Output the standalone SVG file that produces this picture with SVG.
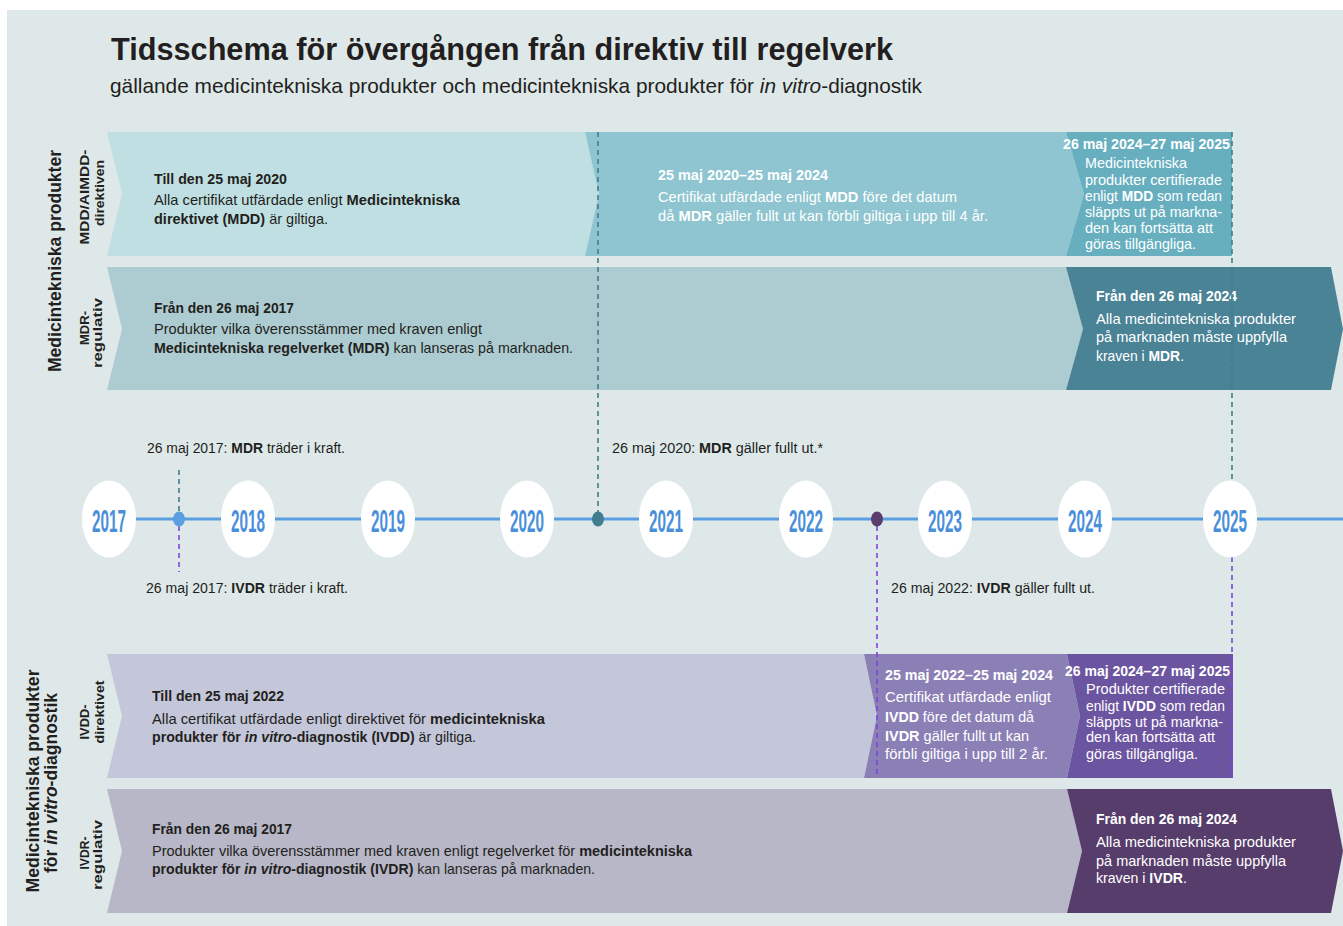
<svg xmlns="http://www.w3.org/2000/svg" width="1343" height="926" viewBox="0 0 1343 926">
<style>
text{font-family:"Liberation Sans Narrow","Liberation Sans",Arial,sans-serif;fill:#231f20}
.b{font-weight:bold}
.i{font-style:italic}
.w{fill:#fff}
.s{font-size:14.5px}
.lab{font-size:14px}
.yr{font-size:32px;font-weight:bold;fill:#4a8fda;text-anchor:middle}
.v{font-weight:bold;text-anchor:middle}
.yc{fill:#fff}
.dt{fill:none;stroke:#3f7d8f;stroke-width:1.6;stroke-dasharray:5 4}
.dp{fill:none;stroke:#7d44dc;stroke-width:1.6;stroke-dasharray:5 4}
</style>
<rect x="7" y="10" width="1336" height="916" fill="#dfe8e9"/>
<g id="title">
<text x="111" y="60" class="b" font-size="32" textLength="782" lengthAdjust="spacingAndGlyphs">Tidsschema för övergången från direktiv till regelverk</text>
<text x="110" y="93" font-size="21" textLength="812" lengthAdjust="spacingAndGlyphs">gällande medicintekniska produkter och medicintekniska produkter för <tspan class="i">in vitro</tspan>-diagnostik</text>
</g>
<g id="side-labels">
<text class="v" font-size="19" transform="translate(61,261) rotate(-90)" textLength="222" lengthAdjust="spacingAndGlyphs">Medicintekniska produkter</text>
<text class="v" font-size="13.5" transform="translate(89,197) rotate(-90)" textLength="95" lengthAdjust="spacingAndGlyphs">MDD/AIMDD-</text>
<text class="v" font-size="13.5" transform="translate(104,193) rotate(-90)" textLength="66" lengthAdjust="spacingAndGlyphs">direktiven</text>
<text class="v" font-size="13.5" transform="translate(89,328) rotate(-90)" textLength="34" lengthAdjust="spacingAndGlyphs">MDR-</text>
<text class="v" font-size="13.5" transform="translate(102,333) rotate(-90)" textLength="70" lengthAdjust="spacingAndGlyphs">regulativ</text>
<text class="v" font-size="19" transform="translate(39,781) rotate(-90)" textLength="223" lengthAdjust="spacingAndGlyphs">Medicintekniska produkter</text>
<text class="v" font-size="19" transform="translate(57,783) rotate(-90)" textLength="180" lengthAdjust="spacingAndGlyphs">för <tspan class="i">in vitro</tspan>-diagnostik</text>
<text class="v" font-size="13.5" transform="translate(89,722) rotate(-90)" textLength="35" lengthAdjust="spacingAndGlyphs">IVDD-</text>
<text class="v" font-size="13.5" transform="translate(104,712) rotate(-90)" textLength="63" lengthAdjust="spacingAndGlyphs">direktivet</text>
<text class="v" font-size="13.5" transform="translate(89,853) rotate(-90)" textLength="33" lengthAdjust="spacingAndGlyphs">IVDR-</text>
<text class="v" font-size="13.5" transform="translate(102,855) rotate(-90)" textLength="70" lengthAdjust="spacingAndGlyphs">regulativ</text>
</g>
<g id="mdd-until-2020">
<path d="M107,132 L585,132 L599,194 L585,256 L107,256 L122,194 Z" fill="#c0dfe2"/>
<text x="154" y="184" class="s b" textLength="133" lengthAdjust="spacingAndGlyphs">Till den 25 maj 2020</text>
<text x="154" y="205" class="s" textLength="306" lengthAdjust="spacingAndGlyphs">Alla certifikat utfärdade enligt <tspan class="b">Medicintekniska</tspan></text>
<text x="154" y="224" class="s" textLength="174" lengthAdjust="spacingAndGlyphs"><tspan class="b">direktivet (MDD)</tspan> är giltiga.</text>
</g>
<g id="mdd-2020-2024">
<path d="M585,132 L1066,132 L1084,194 L1066,256 L585,256 L599,194 Z" fill="#8ec5d0"/>
<text x="658" y="180" class="s b w" textLength="170" lengthAdjust="spacingAndGlyphs">25 maj 2020–25 maj 2024</text>
<text x="658" y="202" class="s w" textLength="299" lengthAdjust="spacingAndGlyphs">Certifikat utfärdade enligt <tspan class="b">MDD</tspan> före det datum</text>
<text x="658" y="221" class="s w" textLength="330" lengthAdjust="spacingAndGlyphs">då <tspan class="b">MDR</tspan> gäller fullt ut kan förbli giltiga i upp till 4 år.</text>
</g>
<g id="mdd-2024-2025">
<path d="M1066,132 L1232,132 L1232,256 L1066,256 L1084,194 Z" fill="#67afbf"/>
<text x="1063" y="149" class="s b w" textLength="167" lengthAdjust="spacingAndGlyphs">26 maj 2024–27 maj 2025</text>
<text x="1085" y="168" class="s w" textLength="102" lengthAdjust="spacingAndGlyphs">Medicintekniska</text>
<text x="1085" y="185" class="s w" textLength="137" lengthAdjust="spacingAndGlyphs">produkter certifierade</text>
<text x="1085" y="201" class="s w" textLength="137" lengthAdjust="spacingAndGlyphs">enligt <tspan class="b">MDD</tspan> som redan</text>
<text x="1085" y="217" class="s w" textLength="137" lengthAdjust="spacingAndGlyphs">släppts ut på markna-</text>
<text x="1085" y="233" class="s w" textLength="128" lengthAdjust="spacingAndGlyphs">den kan fortsätta att</text>
<text x="1085" y="249" class="s w" textLength="111" lengthAdjust="spacingAndGlyphs">göras tillgängliga.</text>
</g>
<g id="mdr-from-2017">
<path d="M107,267 L1066,267 L1083,329 L1066,390 L107,390 L122,329 Z" fill="#adccd1"/>
<text x="154" y="313" class="s b" textLength="140" lengthAdjust="spacingAndGlyphs">Från den 26 maj 2017</text>
<text x="154" y="334" class="s" textLength="328" lengthAdjust="spacingAndGlyphs">Produkter vilka överensstämmer med kraven enligt</text>
<text x="154" y="353" class="s" textLength="419" lengthAdjust="spacingAndGlyphs"><tspan class="b">Medicintekniska regelverket (MDR)</tspan> kan lanseras på marknaden.</text>
</g>
<g id="mdr-from-2024">
<path d="M1066,267 L1331,267 L1343,329 L1331,390 L1066,390 L1083,329 Z" fill="#4a8296"/>
<text x="1096" y="301" class="s b w" textLength="141" lengthAdjust="spacingAndGlyphs">Från den 26 maj 2024</text>
<text x="1096" y="324" class="s w" textLength="200" lengthAdjust="spacingAndGlyphs">Alla medicintekniska produkter</text>
<text x="1096" y="342" class="s w" textLength="191" lengthAdjust="spacingAndGlyphs">på marknaden måste uppfylla</text>
<text x="1096" y="361" class="s w" textLength="88" lengthAdjust="spacingAndGlyphs">kraven i <tspan class="b">MDR</tspan>.</text>
</g>
<g id="ivdd-until-2022">
<path d="M107,654 L864,654 L877,716 L864,778 L107,778 L122,716 Z" fill="#c4c7da"/>
<text x="152" y="701" class="s b" textLength="132" lengthAdjust="spacingAndGlyphs">Till den 25 maj 2022</text>
<text x="152" y="724" class="s" textLength="393" lengthAdjust="spacingAndGlyphs">Alla certifikat utfärdade enligt direktivet för <tspan class="b">medicintekniska</tspan></text>
<text x="152" y="742" class="s" textLength="324" lengthAdjust="spacingAndGlyphs"><tspan class="b">produkter för <tspan class="i">in vitro</tspan>-diagnostik (IVDD)</tspan> är giltiga.</text>
</g>
<g id="ivdd-2022-2024">
<path d="M864,654 L1067,654 L1080,716 L1067,778 L864,778 L877,716 Z" fill="#8b80b6"/>
<text x="885" y="680" class="s b w" textLength="168" lengthAdjust="spacingAndGlyphs">25 maj 2022–25 maj 2024</text>
<text x="885" y="702" class="s w" textLength="166" lengthAdjust="spacingAndGlyphs">Certifikat utfärdade enligt</text>
<text x="885" y="722" class="s w" textLength="149" lengthAdjust="spacingAndGlyphs"><tspan class="b">IVDD</tspan> före det datum då</text>
<text x="885" y="741" class="s w" textLength="144" lengthAdjust="spacingAndGlyphs"><tspan class="b">IVDR</tspan> gäller fullt ut kan</text>
<text x="885" y="759" class="s w" textLength="163" lengthAdjust="spacingAndGlyphs">förbli giltiga i upp till 2 år.</text>
</g>
<g id="ivdd-2024-2025">
<path d="M1067,654 L1233,654 L1233,778 L1067,778 L1080,716 Z" fill="#6c55a0"/>
<text x="1065" y="676" class="s b w" textLength="165" lengthAdjust="spacingAndGlyphs">26 maj 2024–27 maj 2025</text>
<text x="1086" y="694" class="s w" textLength="139" lengthAdjust="spacingAndGlyphs">Produkter certifierade</text>
<text x="1086" y="711" class="s w" textLength="139" lengthAdjust="spacingAndGlyphs">enligt <tspan class="b">IVDD</tspan> som redan</text>
<text x="1086" y="727" class="s w" textLength="137" lengthAdjust="spacingAndGlyphs">släppts ut på markna-</text>
<text x="1086" y="742" class="s w" textLength="129" lengthAdjust="spacingAndGlyphs">den kan fortsätta att</text>
<text x="1086" y="759" class="s w" textLength="112" lengthAdjust="spacingAndGlyphs">göras tillgängliga.</text>
</g>
<g id="ivdr-from-2017">
<path d="M107,789 L1067,789 L1082,851 L1067,913 L107,913 L122,851 Z" fill="#b7b7c7"/>
<text x="152" y="834" class="s b" textLength="140" lengthAdjust="spacingAndGlyphs">Från den 26 maj 2017</text>
<text x="152" y="856" class="s" textLength="540" lengthAdjust="spacingAndGlyphs">Produkter vilka överensstämmer med kraven enligt regelverket för <tspan class="b">medicintekniska</tspan></text>
<text x="152" y="874" class="s" textLength="443" lengthAdjust="spacingAndGlyphs"><tspan class="b">produkter för <tspan class="i">in vitro</tspan>-diagnostik (IVDR)</tspan> kan lanseras på marknaden.</text>
</g>
<g id="ivdr-from-2024">
<path d="M1067,789 L1331,789 L1343,851 L1331,913 L1067,913 L1082,851 Z" fill="#573d6b"/>
<text x="1096" y="824" class="s b w" textLength="141" lengthAdjust="spacingAndGlyphs">Från den 26 maj 2024</text>
<text x="1096" y="847" class="s w" textLength="200" lengthAdjust="spacingAndGlyphs">Alla medicintekniska produkter</text>
<text x="1096" y="866" class="s w" textLength="190" lengthAdjust="spacingAndGlyphs">på marknaden måste uppfylla</text>
<text x="1096" y="883" class="s w" textLength="91" lengthAdjust="spacingAndGlyphs">kraven i <tspan class="b">IVDR</tspan>.</text>
</g>
<g id="connectors">
<line x1="109" y1="519" x2="1343" y2="519" stroke="#5b9fe0" stroke-width="3.2"/>
<line class="dt" x1="179" y1="470" x2="179" y2="512"/>
<line class="dp" x1="179" y1="526" x2="179" y2="572"/>
<line class="dt" x1="598" y1="132" x2="598" y2="512"/>
<line class="dp" x1="877" y1="526" x2="877" y2="778"/>
<line class="dt" x1="1232" y1="132" x2="1232" y2="482"/>
<line class="dp" x1="1232" y1="557" x2="1232" y2="778"/>
</g>
<g id="years">
<ellipse class="yc" cx="109" cy="519" rx="27" ry="38.5"/>
<text class="yr" x="109" y="532" textLength="34" lengthAdjust="spacingAndGlyphs">2017</text>
<ellipse class="yc" cx="248" cy="519" rx="27" ry="38.5"/>
<text class="yr" x="248" y="532" textLength="34" lengthAdjust="spacingAndGlyphs">2018</text>
<ellipse class="yc" cx="388" cy="519" rx="27" ry="38.5"/>
<text class="yr" x="388" y="532" textLength="34" lengthAdjust="spacingAndGlyphs">2019</text>
<ellipse class="yc" cx="527" cy="519" rx="27" ry="38.5"/>
<text class="yr" x="527" y="532" textLength="34" lengthAdjust="spacingAndGlyphs">2020</text>
<ellipse class="yc" cx="666" cy="519" rx="27" ry="38.5"/>
<text class="yr" x="666" y="532" textLength="34" lengthAdjust="spacingAndGlyphs">2021</text>
<ellipse class="yc" cx="806" cy="519" rx="27" ry="38.5"/>
<text class="yr" x="806" y="532" textLength="34" lengthAdjust="spacingAndGlyphs">2022</text>
<ellipse class="yc" cx="945" cy="519" rx="27" ry="38.5"/>
<text class="yr" x="945" y="532" textLength="34" lengthAdjust="spacingAndGlyphs">2023</text>
<ellipse class="yc" cx="1085" cy="519" rx="27" ry="38.5"/>
<text class="yr" x="1085" y="532" textLength="34" lengthAdjust="spacingAndGlyphs">2024</text>
<ellipse class="yc" cx="1230" cy="519" rx="27" ry="38.5"/>
<text class="yr" x="1230" y="532" textLength="34" lengthAdjust="spacingAndGlyphs">2025</text>
</g>
<g id="events">
<ellipse cx="179" cy="519" rx="6" ry="7.5" fill="#5b9fe0"/>
<ellipse cx="598" cy="519" rx="6" ry="7.5" fill="#3f7d8f"/>
<ellipse cx="877" cy="519" rx="6" ry="7.5" fill="#5a3d6e"/>
<text x="147" y="453" class="lab" textLength="198" lengthAdjust="spacingAndGlyphs">26 maj 2017: <tspan class="b">MDR</tspan> träder i kraft.</text>
<text x="612" y="453" class="lab" textLength="211" lengthAdjust="spacingAndGlyphs">26 maj 2020: <tspan class="b">MDR</tspan> gäller fullt ut.*</text>
<text x="146" y="593" class="lab" textLength="202" lengthAdjust="spacingAndGlyphs">26 maj 2017: <tspan class="b">IVDR</tspan> träder i kraft.</text>
<text x="891" y="593" class="lab" textLength="204" lengthAdjust="spacingAndGlyphs">26 maj 2022: <tspan class="b">IVDR</tspan> gäller fullt ut.</text>
</g>
</svg>
